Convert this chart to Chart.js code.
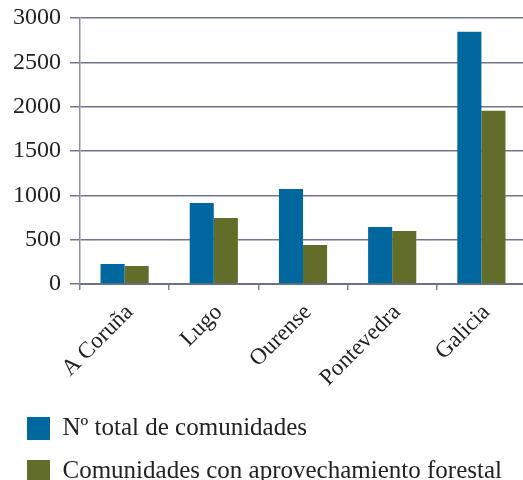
<!DOCTYPE html>
<html>
<head>
<meta charset="utf-8">
<script src="https://cdn.jsdelivr.net/npm/chart.js@4"></script>
<style>
  html, body { margin: 0; padding: 0; background: #fff; overflow: hidden; }
  #wrap { width: 523px; height: 480px; overflow: hidden; }
  canvas { display: block; }
</style>
</head>
<body>
<div id="wrap"><canvas id="communities-chart" width="526" height="494"></canvas></div>
<script>
var categories = ['A Coruña', 'Lugo', 'Ourense', 'Pontevedra', 'Galicia'];
var totalCommunities = [226, 914, 1072, 643, 2844];
var forestryCommunities = [203, 745, 440, 598, 1953];
var seriesLabels = ['Nº total de comunidades', 'Comunidades con aprovechamiento forestal'];
var yTicks = [0, 500, 1000, 1500, 2000, 2500, 3000];

var serif = 'Liberation Serif, DejaVu Serif, serif';

function renderChart() {
  var ctx = document.getElementById('communities-chart').getContext('2d');
  return new Chart(ctx, {
    type: 'bar',
    data: {
      labels: categories,
      datasets: [{
        label: seriesLabels[0],
        data: totalCommunities,
        backgroundColor: '#00679f'
      }, {
        label: seriesLabels[1],
        data: forestryCommunities,
        backgroundColor: '#616d29'
      }]
    },
    options: {
      responsive: false,
      animation: false,
      layout: { padding: { top: 18, left: 9, right: 0, bottom: 0 } },
      datasets: { bar: { categoryPercentage: 0.54, barPercentage: 1 } },
      plugins: {
        tooltip: { enabled: false },
        legend: {
          position: 'bottom',
          align: 'start',
          labels: {
            boxWidth: 23,
            boxHeight: 23,
            padding: 18,
            color: '#222',
            font: { family: serif, size: 25 }
          }
        }
      },
      scales: {
        x: {
          grid: { offset: true, drawOnChartArea: false, drawTicks: true, tickLength: 6, color: '#7b8099', lineWidth: 1.5 },
          border: { color: '#6c7189', width: 2 },
          ticks: {
            minRotation: 45,
            maxRotation: 45,
            padding: 9,
            labelOffset: 5,
            color: '#222',
            font: { family: serif, size: 23 }
          },
          afterFit: function(s) { s.height = 114; }
        },
        y: {
          min: 0,
          max: 3000,
          afterBuildTicks: function(s) {
            s.ticks = yTicks.map(function(v) { return { value: v }; });
          },
          grid: { color: '#70758e', lineWidth: 1.5, tickLength: 10 },
          border: { color: '#8a8ea6', width: 1.5 },
          ticks: {
            padding: 9,
            color: '#222',
            font: { family: serif, size: 24 },
            callback: function(v) { return String(v); }
          },
          afterFit: function(s) {
            s.width = 71;
            // the top label may overhang the plot, as in the original
            s.paddingTop = 0;
            s.paddingBottom = 0;
          }
        }
      }
    }
  });
}

renderChart();
</script>
</body>
</html>
